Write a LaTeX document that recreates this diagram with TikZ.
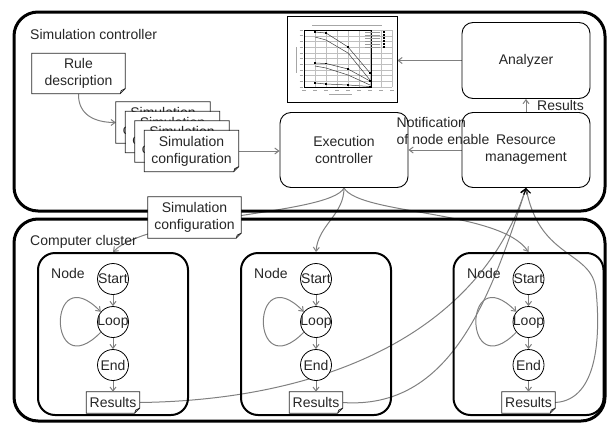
\documentclass[tikz,border=0pt]{standalone}
\usepackage{fontspec}
\setmainfont{Liberation Sans}
\usetikzlibrary{arrows.meta,calc}
\pgfdeclarelayer{connlayer}
\pgfsetlayers{connlayer,main}
\newcommand\mydoc[1]{%
  \draw[docline] (#1.north west) -- (#1.north east) -- ([yshift=5pt]#1.south east) -- ([xshift=-5pt]#1.south east) -- (#1.south west) -- cycle;
  \draw[docline] ([yshift=5pt]#1.south east) -- ([xshift=-4pt,yshift=3pt]#1.south east) -- ([xshift=-5pt]#1.south east);}
\tikzset{
  every node/.style={font=\fontsize{14}{17}\selectfont, text=black!85},
  bigbox/.style={draw=black, line width=3pt, rounded corners=24pt, minimum width=591pt},
  nodebox/.style={draw=black, line width=2pt, rounded corners=17pt, minimum width=150pt, minimum height=162pt},
  rbox/.style={draw=black, line width=0.9pt, rounded corners=11pt, minimum width=128pt, minimum height=75pt, align=center, fill=white},
  docbox/.style={fill=white, minimum width=94pt, minimum height=41pt, align=center, inner sep=0pt},
  docline/.style={draw=black!85, line width=0.8pt},
  st/.style={circle, draw=black, line width=0.8pt, minimum size=31pt, inner sep=-2pt, fill=white},
  conn/.style={draw=black!50, line width=1pt, -{Straight Barb[length=4pt,width=6pt]}},
  rescon/.style={draw=black!50, line width=1pt, -{Straight Barb[length=5pt,width=7pt,black,line width=1.2pt]}},
  lbl/.style={anchor=west, inner sep=0pt},
  gridl/.style={draw=black!25, line width=0.35pt},
  curvel/.style={draw=black!75, line width=0.5pt},
  mk/.style={fill=black, minimum size=1.8pt, inner sep=0pt, draw=none}
}
\begin{document}
\begin{tikzpicture}[x=1pt,y=-1pt]
\useasboundingbox (0,0) rectangle (607,423);
% big frames
\node[bigbox, minimum height=199pt] (simctl) at (309.5,111.5) {};
\node[bigbox, minimum height=202pt] (cluster) at (309.5,320) {};
\node[lbl] (simctllbl) at (30,34) {Simulation controller};
\node[lbl] (clusterlbl) at (30,242) {Computer cluster};
% computer nodes
\node[nodebox] (nb1) at (113,334) {};
\node[nodebox] (nb2) at (316,334) {};
\node[nodebox] (nb3) at (528.5,334) {};
\node[lbl] (nl1) at (51,273) {Node};
\node[lbl] (nl2) at (254,273) {Node};
\node[lbl] (nl3) at (467,273) {Node};
% controller boxes
\node[rbox] (exec) at (344,150) {Execution\\controller};
\node[rbox] (res) at (526,150) {Resource\\management};
\node[rbox, minimum height=76pt] (ana) at (526,60.5) {Analyzer};
% chart
\node[draw=black, line width=0.8pt, minimum width=110pt, minimum height=86pt, inner sep=0pt, fill=white] (chart) at (342,59) {};
\foreach \gx in {315,326,...,392} \draw[gridl] (\gx,30) -- (\gx,87);
\foreach \gy in {35.7,41.4,47.1,52.8,58.5,64.2,69.9,75.6,81.3} \draw[gridl] (304,\gy) -- (392,\gy);
\draw[gridl] (371,30) -- (392,30) (371,87) -- (392,87);
\draw[black, line width=0.9pt] (304,30) rectangle (371,87);
\draw[black!35, line width=0.7pt] (312,25) -- (382,25);
\draw[black!35, line width=0.7pt] (329,94.5) -- (352,94.5);
\draw[black!35, line width=0.7pt] (296.5,47) -- (296.5,73);
\foreach \gy in {30,35.7,41.4,47.1,52.8,58.5,64.2,69.9,75.6,81.3,87} \draw[black!35, line width=0.5pt] (299.5,\gy) -- (302.5,\gy);
\foreach \gx in {304,315,326,337,348,359,370,381,392} \draw[black!35, line width=0.5pt] (\gx-2,90.5) -- (\gx+2,90.5);
\foreach \ly in {32,35,38,41,44,47} {\draw[black!40, line width=0.5pt] (365,\ly) -- (380,\ly); \node[mk] at (384,\ly) {};}
\draw[curvel] (315,32) -- (326,33) -- (348,47) -- (370,73);
\draw[curvel] (315,37) -- (326,40) -- (348,53) -- (370,80);
\draw[curvel] (315,63) -- (326,63.5) -- (348,69) -- (370,81);
\draw[curvel] (315,66) -- (326,68) -- (348,75) -- (370,85);
\draw[curvel] (315,83) -- (326,84) -- (348,85) -- (370,86.5);
\foreach \px/\py in {315/32,326/33,348/47,370/73,315/63,326/63.5,348/69,370/81,315/83,326/84,348/85,370/86.5} \node[mk] at (\px,\py) {};
% documents
\node[docbox, minimum width=93pt, minimum height=40pt] (rule) at (78.5,73.5) {Rule\\description}; \mydoc{rule}
\node[docbox] (c1) at (163,122.5) {Simulation\\configuration}; \mydoc{c1}
\node[docbox] (c2) at (172.5,132) {Simulation\\configuration}; \mydoc{c2}
\node[docbox] (c3) at (182,141.5) {Simulation\\configuration}; \mydoc{c3}
\node[docbox] (c4) at (191.5,151) {Simulation\\configuration}; \mydoc{c4}
% labels
\node[anchor=west, inner sep=0pt, align=left] (notif) at (396.5,130.5) {Notification\\of node enable};
\node[lbl] (reslbl) at (537,105) {Results};
% node internals
\foreach \i/\x in {1/113,2/316,3/528.5} {
  \node[st] (s\i) at (\x,279) {Start};
  \node[st] (l\i) at (\x,322) {Loop};
  \node[st] (e\i) at (\x,365) {End};
  \node[docbox, minimum width=53pt, minimum height=21pt] (r\i) at (\x,402.5) {Results}; \mydoc{r\i}
  \draw[conn] (s\i) -- (l\i);
  \draw[conn] (l\i) -- (e\i);
  \draw[conn] (e\i) -- (r\i);
  \draw[conn] (l\i.220) .. controls ($(l\i)+(-66,65)$) and ($(l\i)+(-66,-65)$) .. (l\i.140);
}
% connectors
\begin{pgfonlayer}{connlayer}
\draw[conn] (rule.south) .. controls (78,115) and (95,122.5) .. (c1.west);
\draw[conn] (c4.east) -- (c4.east -| exec.west);
\draw[conn] (res.west) -- (res.west -| exec.east);
\draw[conn] (res.north) -- (ana.south);
\draw[conn] (ana.west) -- (ana.west -| chart.east);
\draw[conn] (exec.south) .. controls (330,215) and (150,215) .. (nb1.north);
\draw[conn] (exec.south) .. controls (344,215) and (318,225) .. (nb2.north);
\draw[conn] (exec.south) .. controls (360,215) and (500,210) .. (nb3.north);
\draw[rescon] (r1.east) .. controls (330,400) and (480,330) .. (res.south);
\draw[rescon] (r2.east) .. controls (450,410) and (490,300) .. (res.south);
\draw[rescon] (r3.east) .. controls (600,400) and (600,330) .. (596,290) .. controls (592,250) and (540,260) .. (res.south);
\end{pgfonlayer}
% configuration handed to the cluster
\node[docbox, minimum width=93pt] (cfg) at (194.5,217.5) {Simulation\\configuration}; \mydoc{cfg}
\end{tikzpicture}
\end{document}
